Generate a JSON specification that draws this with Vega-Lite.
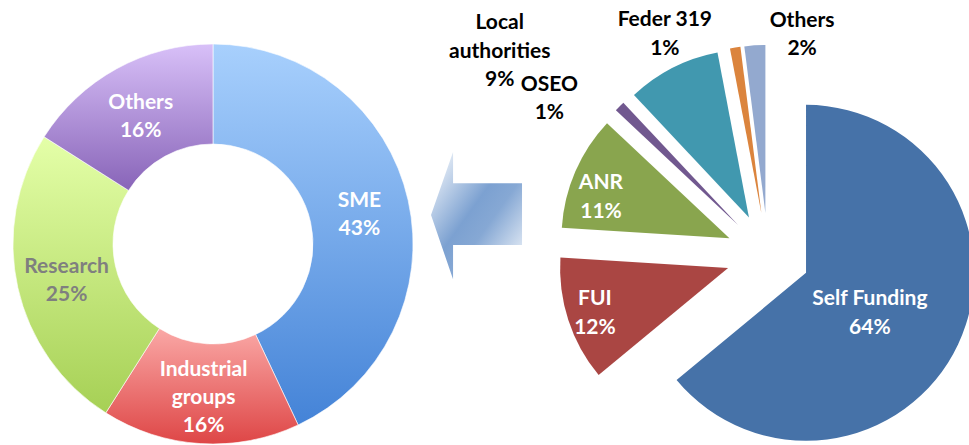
{
  "$schema": "https://vega.github.io/schema/vega-lite/v6.json",
  "width": 969,
  "height": 445,
  "padding": 0,
  "autosize": {"type": "none"},
  "background": "white",
  "config": {"view": {"stroke": null}},
  "datasets": {
    "donut": [
      {"source": "SME", "value": 43, "label": "SME\n43%"},
      {"source": "Industrial groups", "value": 16, "label": "Industrial\ngroups\n16%"},
      {"source": "Research", "value": 25, "label": "Research\n25%"},
      {"source": "Others", "value": 16, "label": "Others\n16%"}
    ],
    "pie": [
      {"source": "Self Funding", "value": 64, "label": "Self Funding\n64%"},
      {"source": "FUI", "value": 12, "label": "FUI\n12%"},
      {"source": "ANR", "value": 11, "label": "ANR\n11%"},
      {"source": "OSEO", "value": 1, "label": "OSEO\n1%"},
      {"source": "Local authorities", "value": 9, "label": "Local\nauthorities\n9%"},
      {"source": "Feder 319", "value": 1, "label": "Feder 319\n1%"},
      {"source": "Others", "value": 2, "label": "Others\n2%"}
    ],
    "arrow": [{"item": "arrow"}]
  },
  "layer": [
    {
      "data": {"name": "arrow"},
      "mark": {
        "type": "point",
        "shape": "M-0.708,0 L-0.369,-0.97 L-0.369,-0.49 L0.692,-0.49 L0.692,0.46 L-0.369,0.46 L-0.369,0.99 Z",
        "size": 16900,
        "filled": true,
        "opacity": 1,
        "strokeWidth": 0,
        "x": {"expr": "width*0.4923"},
        "y": {"expr": "height*0.4831"},
        "fill": {
          "gradient": "linear", "x1": 0, "y1": 0, "x2": 1, "y2": 1,
          "stops": [
            {"offset": 0, "color": "#ffffff"},
            {"offset": 0.45, "color": "#7ca1d1"},
            {"offset": 0.6, "color": "#86a8d4"},
            {"offset": 1, "color": "#ffffff"}
          ]
        }
      },
      "encoding": {}
    },
    {
      "data": {"name": "donut"},
      "transform": [{"window": [{"op": "row_number", "as": "rank"}]}],
      "encoding": {
        "theta": {"field": "value", "type": "quantitative", "stack": true, "scale": {"domain": [0, 100]}},
        "order": {"field": "rank", "type": "quantitative"}
      },
      "layer": [
        {
          "mark": {
            "type": "arc", "outerRadius": 200, "innerRadius": 100,
            "x": {"expr": "width*0.2198"}, "y": {"expr": "height*0.5483"},
            "stroke": "#ffffff", "strokeWidth": 0.6
          },
          "encoding": {
            "color": {
              "condition": [
                {"test": "datum.source === 'SME'", "value": {"gradient": "linear", "x1": 0, "y1": 0, "x2": 0, "y2": 1, "stops": [{"offset": 0, "color": "#a8d0fd"}, {"offset": 1, "color": "#4483d7"}]}},
                {"test": "datum.source === 'Industrial groups'", "value": {"gradient": "linear", "x1": 0, "y1": 0, "x2": 0, "y2": 1, "stops": [{"offset": 0, "color": "#faa8a6"}, {"offset": 1, "color": "#de4646"}]}},
                {"test": "datum.source === 'Research'", "value": {"gradient": "linear", "x1": 0, "y1": 0, "x2": 0, "y2": 1, "stops": [{"offset": 0, "color": "#e4ffa8"}, {"offset": 1, "color": "#a6d055"}]}}
              ],
              "value": {"gradient": "linear", "x1": 0, "y1": 0, "x2": 0, "y2": 1, "stops": [{"offset": 0, "color": "#d8c0f8"}, {"offset": 1, "color": "#8864b8"}]}
            }
          }
        },
        {
          "mark": {
            "type": "text", "radius": 150, "lineBreak": "\n", "lineHeight": 28,
            "x": {"expr": "width*0.2198"}, "y": {"expr": "height*0.5483"},
            "dy": {"expr": "datum.source === 'Industrial groups' ? -24 : -10"},
            "font": "Lato", "fontSize": 21, "fontWeight": "bold", "align": "center", "baseline": "middle"
          },
          "encoding": {
            "text": {"field": "label"},
            "color": {"condition": {"test": "datum.source === 'Research'", "value": "#7f7f7f"}, "value": "#ffffff"}
          }
        }
      ]
    },
    {
      "data": {"name": "pie"},
      "transform": [{"window": [{"op": "row_number", "as": "rank"}]}],
      "encoding": {
        "theta": {"field": "value", "type": "quantitative", "stack": true, "scale": {"domain": [0, 100]}},
        "order": {"field": "rank", "type": "quantitative"}
      },
      "layer": [
        {
          "mark": {
            "type": "arc", "outerRadius": 168,
            "x": {"expr": "width*0.7926"}, "y": {"expr": "height*0.573"},
            "xOffset": {"expr": "42*sin(PI*(datum.value_start+datum.value_end)/100)"},
            "yOffset": {"expr": "-42*cos(PI*(datum.value_start+datum.value_end)/100)"}
          },
          "encoding": {
            "color": {
              "condition": [
                {"test": "datum.source === 'Self Funding'", "value": "#4672a8"},
                {"test": "datum.source === 'FUI'", "value": "#aa4643"},
                {"test": "datum.source === 'ANR'", "value": "#89a54e"},
                {"test": "datum.source === 'OSEO'", "value": "#71588f"},
                {"test": "datum.source === 'Local authorities'", "value": "#4198af"},
                {"test": "datum.source === 'Feder 319'", "value": "#db843d"}
              ],
              "value": "#93a9cf"
            }
          }
        },
        {
          "mark": {
            "type": "text", "lineBreak": "\n", "lineHeight": 29,
            "radius": {"expr": "datum.value > 50 ? 75 : 140"},
            "x": {"expr": "width*0.7926"}, "y": {"expr": "height*0.573"},
            "xOffset": {"expr": "42*sin(PI*(datum.value_start+datum.value_end)/100)"},
            "yOffset": {"expr": "-42*cos(PI*(datum.value_start+datum.value_end)/100)"},
            "dx": {"expr": "datum.source === 'Self Funding' ? -4 : 0"},
            "dy": {"expr": "datum.source === 'Self Funding' ? -6 : datum.source === 'FUI' ? -12 : 0"},
            "font": "Lato", "fontSize": 21, "fontWeight": "bold", "align": "center", "baseline": "middle", "fill": "#ffffff"
          },
          "encoding": {
            "text": {"condition": {"test": "datum.value > 10", "field": "label"}, "value": ""}
          }
        },
        {
          "mark": {
            "type": "text", "lineBreak": "\n", "lineHeight": 28.5,
            "radius": {"expr": "datum.source === 'Local authorities' ? 232 : datum.source === 'OSEO' ? 223 : datum.source === 'Feder 319' ? 225 : 222"},
            "dx": {"expr": "datum.source === 'Local authorities' ? -163 : datum.source === 'OSEO' ? -61 : datum.source === 'Feder 319' ? -68 : 48"},
            "dy": {"expr": "datum.source === 'Local authorities' ? -25 : -12.5"},
            "x": {"expr": "width*0.7926"}, "y": {"expr": "height*0.573"},
            "font": "Lato", "fontSize": 21, "fontWeight": "bold", "align": "center", "baseline": "middle", "fill": "#000000"
          },
          "encoding": {
            "text": {"condition": {"test": "datum.value < 10", "field": "label"}, "value": ""}
          }
        }
      ]
    }
  ]
}
